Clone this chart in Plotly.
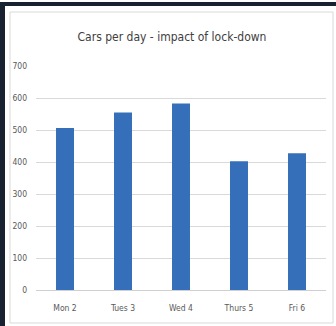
import plotly.graph_objects as go

days = ["Mon 2", "Tues 3", "Wed 4", "Thurs 5", "Fri 6"]
cars = [506, 555, 583, 402, 427]
y_ticks = [0, 100, 200, 300, 400, 500, 600, 700]

W, H = 336, 326
ml, mr, mt, mb = 36, 10, 66, 36
pw, ph = W - ml - mr, H - mt - mb

def px_x(p):
    return (p - ml) / pw

def px_y(p):
    return (H - mb - p) / ph

FONT = "DejaVu Sans Condensed, Liberation Sans Narrow, sans-serif"

fig = go.Figure(go.Bar(x=days, y=cars, width=0.31, marker=dict(color="#356FB9", line=dict(width=0))))

shapes = [
    dict(type="rect", xref="paper", yref="paper", x0=px_x(10), x1=px_x(333), y0=px_y(323), y1=px_y(12),
         line=dict(color="#d9d9d9", width=1), fillcolor="rgba(0,0,0,0)", layer="below"),
    dict(type="rect", xref="paper", yref="paper", x0=px_x(0), x1=px_x(336), y0=px_y(6), y1=px_y(2),
         line=dict(width=0), fillcolor="#17212f"),
    dict(type="rect", xref="paper", yref="paper", x0=px_x(0), x1=px_x(5), y0=px_y(326), y1=px_y(2),
         line=dict(width=0), fillcolor="#17212f"),
]

fig.update_layout(
    width=W, height=H,
    margin=dict(l=ml, r=mr, t=mt, b=mb),
    paper_bgcolor="white", plot_bgcolor="white",
    font=dict(family=FONT, color="#595959", size=8.5),
    title=dict(text="Cars per day - impact of lock-down", x=172 / W, xref="container", xanchor="center",
               y=1 - 37 / H, yanchor="middle",
               font=dict(family=FONT, size=12, color="#404040")),
    showlegend=False,
    shapes=shapes,
)
fig.update_yaxes(range=[0, 700], tickvals=y_ticks, showgrid=True, gridcolor="#d9d9d9", gridwidth=1,
                 zeroline=True, zerolinecolor="#d0d0d0", zerolinewidth=1, showline=False,
                 ticks="", ticklabelstandoff=8, fixedrange=True)
fig.update_xaxes(showgrid=False, showline=False, ticks="", ticklabelstandoff=11, fixedrange=True)

fig.write_html("out.html", config=dict(displayModeBar=False),
               post_script="document.body.style.margin='0';document.body.style.padding='0';")
